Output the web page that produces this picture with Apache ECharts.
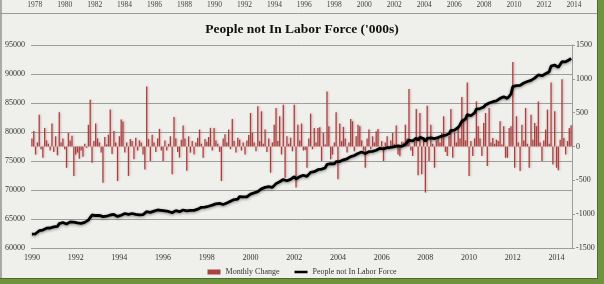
<!DOCTYPE html>
<html><head><meta charset="utf-8">
<script src="https://cdn.jsdelivr.net/npm/echarts@6/dist/echarts.min.js"></script>
<style>html,body{margin:0;padding:0;background:#fff}#c{width:604px;height:284px}</style>
</head><body><div id="c"></div>
<script>
// Monthly change in People not in Labor Force ('000s), Jan 1990 .. Sep 2014
const monthlyChange = [
  120, 230, -120, 60, 470, -40, -165, 275, 90, 40, -60, 340,          // 1990
  -80, 150, -130, 505, 60, 120, -40, -315, 200, 90, 160, -435,        // 1991
  -120, -90, -180, -60, -150, 40, -20, 320, 690, -240, 80, 340,       // 1992
  120, 60, -90, -535, 140, 30, 175, 545, -110, 230, 60, -510,         // 1993
  150, 400, 370, -90, 60, -435, 110, 80, -190, 130, -60, 90,          // 1994
  60, -120, -340, 887, 110, -215, 175, 60, -80, 120, 260, -60,        // 1995
  -215, 90, -60, 40, 150, -410, 436, 120, -80, -165, 100, 310,        // 1996
  120, -360, 150, -90, 80, -120, 60, 130, 250, 40, -165, 110,         // 1997
  70, 140, 275, -60, 275, 90, 40, -80, -510, 120, 180, 60,            // 1998
  250, -40, 405, 80, -90, 130, 100, -60, 60, -120, 90, 170,           // 1999
  495, 200, 60, -70, 593, 80, 520, 40, 250, -80, 120, -387,           // 2000
  60, 323, 568, 80, 446, -118, 617, -460, 150, 40, 130, -70,          // 2001
  617, -607, 323, 90, 338, -60, -50, -314, 120, 485, -40, 275,        // 2002
  60, 275, 285, -215, 200, 30, 813, 300, -190, -120, 60, 505,         // 2003
  -485, 340, 80, 290, 120, -90, 60, 405, 372, -70, 150, 323,          // 2004
  300, 90, -60, -314, 120, 250, -40, 150, 60, 225, 260, -50,          // 2005
  80, -215, 60, 150, -40, 90, 200, 40, 310, -120, -145, 70,           // 2006
  60, 323, 120, 850, -60, -140, 80, 553, -426, 495, -410, 90,         // 2007
  -680, 603, -215, 323, 40, -314, 90, 150, 60, 200, 446, -80,         // 2008
  -140, 150, 553, -165, 200, 60, 300, 120, 730, 400, 90, 945,         // 2009
  -436, 80, -140, 120, 666, 300, 120, -140, 348, 495, -290, 568,      // 2010
  60, 127, 40, 100, 80, 372, 30, 300, -165, -165, 275, 300,           // 2011
  1250, -314, 446, 60, -363, 323, 90, 568, 40, -314, 470, 100,        // 2012
  348, 300, 666, 60, -215, 90, 250, 544, 40, 946, -265, 520,          // 2013
  -314, -350, 100, 995, 127, -118, 80, 275, 315                       // 2014
];
// People not in Labor Force level ('000s)
const notInLaborForce = [
  62400, 62520, 62450, 62600, 62980, 63220, 63100, 63350, 63420, 63480, 63450, 63700,
  63640, 63800, 63720, 64200, 64360, 64400, 64380, 64150, 64400, 64500, 64830, 64450,
  64420, 64350, 64300, 64260, 64360, 64420, 64480, 64800, 65120, 65690, 65500, 65600,
  65680, 65620, 65500, 65400, 65520, 65480, 65600, 65690, 65600, 65780, 65800, 65450,
  65400, 65650, 65900, 65950, 66090, 65800, 65880, 65950, 65690, 65800, 65600, 65700,
  65800, 65750, 65550, 66260, 66300, 66150, 66300, 66350, 66300, 66550, 66600, 66500,
  66350, 66400, 66350, 66300, 66380, 66090, 66400, 66450, 66380, 66260, 66320, 66550,
  66620, 66400, 66560, 66500, 66580, 66500, 66560, 66700, 66900, 67010, 66950, 67050,
  67100, 67200, 67410, 67380, 67550, 67600, 67700, 67680, 67350, 67500, 67700, 67750,
  68000, 68050, 68280, 68350, 68300, 68420, 68850, 68750, 68800, 68700, 68800, 68950,
  69300, 69450, 69500, 69450, 69710, 69800, 70200, 70250, 70450, 70570, 70600, 70300,
  70450, 70700, 71100, 71150, 71430, 71350, 71800, 71500, 71600, 71650, 71840, 71800,
  72300, 71900, 72150, 72300, 72590, 72550, 72500, 72350, 72600, 73050, 73000, 73160,
  73350, 73500, 73740, 73600, 73750, 73800, 74400, 74700, 74550, 74450, 74500, 74880,
  74600, 74900, 74950, 75200, 75460, 75380, 75400, 75750, 76030, 75950, 76100, 76300,
  76500, 76550, 76500, 76300, 76400, 76600, 76550, 76650, 76700, 76850, 77100, 77190,
  77250, 77100, 77150, 77300, 77250, 77360, 77500, 77480, 77700, 77590, 77450, 77520,
  77580, 77850, 77950, 78620, 78550, 78450, 78500, 78950, 78600, 79080, 78750, 78850,
  78400, 78910, 78750, 79000, 79050, 78850, 78900, 79050, 79100, 79300, 79480, 79450,
  79500, 79700, 80250, 80150, 80340, 80450, 80800, 81210, 81850, 82150, 82250, 83000,
  82700, 82800, 82650, 83300, 83950, 84150, 84050, 83950, 84300, 84650, 84450, 85000,
  85100, 85220, 85250, 85350, 85500, 85800, 85850, 86080, 85950, 85800, 86150, 86550,
  87810, 87550, 88000, 87700, 88050, 88390, 88450, 88670, 88700, 88450, 88900, 89080,
  89300, 89550, 89830, 89900, 89700, 89800, 90050, 90220, 90400, 91350, 91100, 91550,
  91380, 91150, 91300, 92120, 92200, 92100, 92250, 92450, 92700
];
const firstYear = 1990;
const bottomTickYears = [1990,1992,1994,1996,1998,2000,2002,2004,2006,2008,2010,2012,2014];
const topTickYears = [1978,1980,1982,1984,1986,1988,1990,1992,1994,1996,1998,2000,2002,2004,2006,2008,2010,2012,2014];
const seriesNames = ['Monthly Change', 'People not In Labor Force'];
const titleText = "People not In Labor Force ('000s)";

const months = monthlyChange.map((_, i) => {
  const y = firstYear + Math.floor(i / 12), m = i % 12 + 1;
  return y + '-' + (m < 10 ? '0' + m : m);
});

const FONT = 'Liberation Serif';
const chart = echarts.init(document.getElementById('c'), null, {renderer: 'canvas'});
chart.setOption({
  animation: false,
  backgroundColor: '#6e9440',
  graphic: [
    {type: 'rect', z: -10, shape: {x: 0, y: 0, width: 598, height: 279}, style: {fill: '#4d6b2a'}},
    {type: 'rect', z: -9, shape: {x: 0, y: 0, width: 597, height: 278}, style: {fill: '#efefec'}},
    {type: 'rect', z: -8, shape: {x: 0, y: 0, width: 2, height: 278}, style: {fill: '#a9a9a6'}},
    {type: 'line', z: -7, shape: {x1: 0, y1: 13.5, x2: 597, y2: 13.5}, style: {stroke: '#9a9a98', lineWidth: 1}}
  ],
  title: {
    text: titleText, left: 'center', top: 18,
    textStyle: {fontFamily: FONT, fontWeight: 'bold', fontSize: 13.5, color: '#111'}
  },
  legend: {
    bottom: 3, left: 'center', itemGap: 15, itemWidth: 13, itemHeight: 5,
    textStyle: {fontFamily: FONT, fontSize: 8, color: '#333'},
    data: [
      {name: seriesNames[0], icon: 'rect'},
      {name: seriesNames[1], icon: 'path://M0,0L26,0L26,5L0,5Z'}
    ]
  },
  grid: [
    {left: 31, right: 32, top: 45, bottom: 36},
    {left: 31, right: 30, top: 45, bottom: 36}
  ],
  xAxis: [
    {
      type: 'category', gridIndex: 0, data: months, boundaryGap: true,
      axisLine: {show: false}, axisTick: {show: false},
      axisLabel: {
        interval: (idx, val) => val.endsWith('-01') && bottomTickYears.includes(+val.slice(0, 4)),
        formatter: v => v.slice(0, 4),
        fontFamily: FONT, fontSize: 8, color: '#333', margin: 6
      }
    },
    {
      type: 'value', gridIndex: 1, position: 'top', offset: 32,
      min: 1977.75, max: 2014,
      axisLine: {show: false}, axisTick: {show: false}, splitLine: {show: false},
      axisLabel: {
        customValues: topTickYears, formatter: v => String(v),
        fontFamily: FONT, fontSize: 7.5, color: '#444', margin: 4
      }
    }
  ],
  yAxis: [
    {
      type: 'value', gridIndex: 0, min: 60000, max: 95000, interval: 5000,
      axisLine: {show: false}, axisTick: {show: false},
      splitLine: {lineStyle: {color: '#9d9d9b', width: 1}},
      axisLabel: {formatter: v => String(v), fontFamily: FONT, fontSize: 8, color: '#333', margin: 6}
    },
    {
      type: 'value', gridIndex: 0, min: -1500, max: 1500, interval: 500, position: 'right',
      axisLine: {show: true, lineStyle: {color: '#9d9d9b'}},
      axisTick: {show: true, length: 3, lineStyle: {color: '#9d9d9b'}},
      splitLine: {show: false},
      axisLabel: {formatter: v => String(v), fontFamily: FONT, fontSize: 8, color: '#333', margin: 4}
    },
    {type: 'value', gridIndex: 1, min: 0, max: 1, show: false}
  ],
  series: [
    {
      name: seriesNames[0], type: 'bar', xAxisIndex: 0, yAxisIndex: 1,
      data: monthlyChange, barWidth: 1.3,
      itemStyle: {color: '#a84240', shadowColor: 'rgba(190,110,110,0.55)', shadowBlur: 2, shadowOffsetX: 1}
    },
    {
      name: seriesNames[1], type: 'line', xAxisIndex: 0, yAxisIndex: 0,
      data: notInLaborForce, symbol: 'none', z: 5,
      lineStyle: {color: '#000', width: 2.8, shadowColor: 'rgba(0,0,0,0.45)', shadowBlur: 3, shadowOffsetY: 1},
      itemStyle: {color: '#000'}
    }
  ]
});
</script></body></html>
